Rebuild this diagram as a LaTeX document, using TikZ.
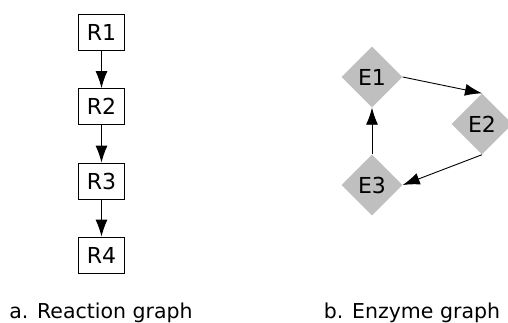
\documentclass[tikz,border=0pt]{standalone}
\usepackage{fontspec}
\setmainfont{DejaVu Sans}
\usetikzlibrary{shapes.geometric,arrows.meta}
\begin{document}
\begin{tikzpicture}[x=1pt,y=-1pt,
  every node/.style={font=\fontsize{22}{26}\selectfont},
  rbox/.style={draw=black,line width=0.9pt,minimum width=46pt,minimum height=36pt,inner sep=0pt},
  ediam/.style={diamond,fill=black!25,draw=none,inner sep=0pt,minimum width=61pt,minimum height=61pt},
  arr/.style={line width=0.9pt,-{Latex[length=17pt,width=12pt]}},
  captxt/.style={anchor=base,font=\fontsize{20.5}{24}\selectfont}]
\clip (0,0) rectangle (508,322);
\fill[white] (0,0) rectangle (508,322);
\node[rbox] (r1) at (101.5,32) {R1};
\node[rbox] (r2) at (101.5,106.5) {R2};
\node[rbox] (r3) at (101.5,181) {R3};
\node[rbox] (r4) at (101.5,255) {R4};
\draw[arr] (r1) -- (r2);
\draw[arr] (r2) -- (r3);
\draw[arr] (r3) -- (r4);
\node[ediam] (e1) at (372,77) {E1};
\node[ediam] (e2) at (482,124) {E2};
\node[ediam] (e3) at (372,185) {E3};
\draw[arr] (e1.east) -- (e2.north);
\draw[arr] (e2.south) -- (e3.east);
\draw[arr] (e3.north) -- (e1.south);
\node[captxt] (la) at (101,318) {a. Reaction graph};
\node[captxt] (lb) at (412,318) {b. Enzyme graph};
\end{tikzpicture}
\end{document}
